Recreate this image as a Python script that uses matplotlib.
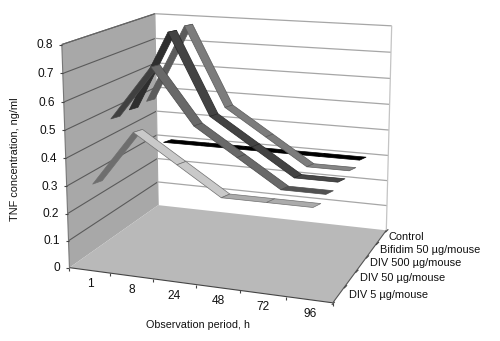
"""
3D ribbon chart of TNF concentration, drawn with a small perspective helper
"""

import numpy as np
import matplotlib
matplotlib.use("Agg")
import matplotlib.pyplot as plt
from matplotlib.patches import Polygon

plt.rcParams['font.family'] = ['Liberation Sans', 'DejaVu Sans']

periods = ['1', '8', '24', '48', '72', '96']
groups = ['DIV 5 µg/mouse', 'DIV 50 µg/mouse', 'DIV 500 µg/mouse',
          'Bifidim 50 µg/mouse', 'Control']
value_ticks = [0, 0.1, 0.2, 0.3, 0.4, 0.5, 0.6, 0.7, 0.8]
value_labels = ['0', '0.1', '0.2', '0.3', '0.4', '0.5', '0.6', '0.7', '0.8']

div5 = [0.3, 0.5, 0.4, 0.3, 0.3, 0.3]
div50 = [0.5, 0.7, 0.5, 0.4, 0.3, 0.3]
div500 = [0.5, 0.8, 0.5, 0.4, 0.3, 0.3]
bifidim = [0.5, 0.8, 0.5, 0.4, 0.3, 0.3]
control = [0.3, 0.3, 0.3, 0.3, 0.3, 0.3]

series = [div5, div50, div500, bifidim, control]

# rising, falling, flat face colours for each series
face_colors = [
    ('#6e6e6e', '#c9c9c9', '#ababab'),
    ('#404040', '#696969', '#525252'),
    ('#2e2e2e', '#434343', '#474747'),
    ('#5c5c5c', '#7c7c7c', '#858585'),
    ('#000000', '#000000', '#000000'),
]
edge_colors = ['#707070', '#4a4a4a', '#2a2a2a', '#5a5a5a', '#000000']

# group labels do not sit evenly along the axis
group_label_dx = [10, 9.3, 8.6, 7.9, 7.2]
group_label_dy = [1, -0.8, -0.6, 0.7, 0]

# box corners (period, group, value) and where they land in the image
box_world = [(0, 0, 0), (6, 0, 0), (0, 5, 0), (6, 5, 0), (0, 0, 0.8), (0, 5, 0.8), (6, 5, 0.8)]
box_image = [(70, 268), (332.3, 303), (157.7, 205), (386.7, 230),
             (61.7, 44), (155, 14), (391.7, 26)]


def fit_camera():
    """Least squares fit of the 3x4 projection matrix"""
    rows, rhs = [], []
    for (x, s, v), (u, w) in zip(box_world, box_image):
        rows.append([x, s, v, 1, 0, 0, 0, 0, -u * x, -u * s, -u * v])
        rhs.append(u)
        rows.append([0, 0, 0, 0, x, s, v, 1, -w * x, -w * s, -w * v])
        rhs.append(w)
    params = np.linalg.lstsq(np.array(rows), np.array(rhs), rcond=None)[0]
    return np.append(params, 1).reshape(3, 4)


camera = fit_camera()


def project(x, s, v):
    h = camera @ np.array([x, s, v, 1.0])
    return h[0] / h[2], h[1] / h[2]


fig = plt.figure(figsize=(5, 3.41), dpi=100)
ax = fig.add_axes([0, 0, 1, 1])
ax.set_xlim(0, 500)
ax.set_ylim(341, 0)
ax.axis('off')

n_x = len(periods)
n_s = len(groups)
top = value_ticks[-1]

# walls and floor
ax.add_patch(Polygon([project(0, 0, 0), project(0, n_s, 0), project(0, n_s, top), project(0, 0, top)],
                     closed=True, fc='#a8a8a8', ec='none', zorder=1))
ax.add_patch(Polygon([project(0, 0, 0), project(n_x, 0, 0), project(n_x, n_s, 0), project(0, n_s, 0)],
                     closed=True, fc='#b9b9b9', ec='none', zorder=1))


def seg(p, q, **kw):
    ax.plot([p[0], q[0]], [p[1], q[1]], solid_capstyle='butt', **kw)


# gridlines, back wall then side wall
for v in value_ticks[1:]:
    seg(project(0, n_s, v), project(n_x, n_s, v), color='#a6a6a6', lw=0.9, zorder=2)
    seg(project(0, 0, v), project(0, n_s, v), color='#5a5a5a', lw=0.8, zorder=2)
seg(project(n_x, n_s, 0), project(n_x, n_s, top), color='#c4c4c4', lw=0.9, zorder=2)
seg(project(0, n_s, 0), project(0, n_s, top), color='#a8a8a8', lw=0.8, zorder=2)

# axis lines
seg(project(0, 0, 0), project(0, 0, top), color='#777777', lw=0.8, zorder=3)
seg(project(0, 0, top), project(0, n_s, top), color='#666666', lw=0.8, zorder=3)
seg(project(0, 0, 0), project(n_x, 0, 0), color='#444444', lw=0.8, zorder=3)
seg(project(n_x, 0, 0), project(n_x, n_s, 0), color='#555555', lw=0.8, zorder=3)

# ribbons, back to front and left to right
ribbon_s = 0.32
ribbon_x = 0.077
z = 10
for idx in range(n_s - 1, -1, -1):
    vals = series[idx]
    s = idx + 0.5
    for i in range(n_x - 1):
        x0, x1 = i + 0.5, i + 1.5
        front = [project(x0 - ribbon_x / 2, s - ribbon_s / 2, vals[i]),
                 project(x1 - ribbon_x / 2, s - ribbon_s / 2, vals[i + 1])]
        back = [project(x1 + ribbon_x / 2, s + ribbon_s / 2, vals[i + 1]),
                project(x0 + ribbon_x / 2, s + ribbon_s / 2, vals[i])]
        if vals[i + 1] > vals[i]:
            color = face_colors[idx][0]
        elif vals[i + 1] < vals[i]:
            color = face_colors[idx][1]
        else:
            color = face_colors[idx][2]
        ax.add_patch(Polygon(front + back, closed=True, fc=color, ec=edge_colors[idx],
                             lw=0.5, zorder=z, joinstyle='round'))
        z += 1

# value axis ticks and labels
for v, label in zip(value_ticks, value_labels):
    px, py = project(0, 0, v)
    seg((px - 3, py), (px, py), color='#444444', lw=0.8, zorder=3)
    ax.text(px - 9, py + 0.5, label, ha='right', va='center', fontsize=8.6, color='#111111')

# period ticks and labels
for i in range(n_x + 1):
    px, py = project(i, 0, 0)
    seg((px, py), (px, py + 3), color='#444444', lw=0.8, zorder=3)
for i, label in enumerate(periods):
    px, py = project(i + 0.5, 0, 0)
    ax.text(px + 0.5, py + 14, label, ha='center', va='center', fontsize=8.6, color='#111111')

# group ticks and labels
for i in range(n_s + 1):
    px, py = project(n_x, i, 0)
    seg((px - 1, py + 2), (px + 2, py - 1), color='#444444', lw=0.8, zorder=3)
for i, label in enumerate(groups):
    px, py = project(n_x, i + 0.5, 0)
    ax.text(px + group_label_dx[i], py + group_label_dy[i], label, ha='left', va='center',
            fontsize=7.9, color='#111111')

ax.text(198.5, 325, 'Observation period, h', ha='center', va='center', fontsize=7.75, color='#111111')
ax.text(15, 159, 'TNF concentration, ng/ml', rotation=90, ha='center', va='center',
        fontsize=7.95, color='#111111')

fig.savefig('out.png', dpi=100)
